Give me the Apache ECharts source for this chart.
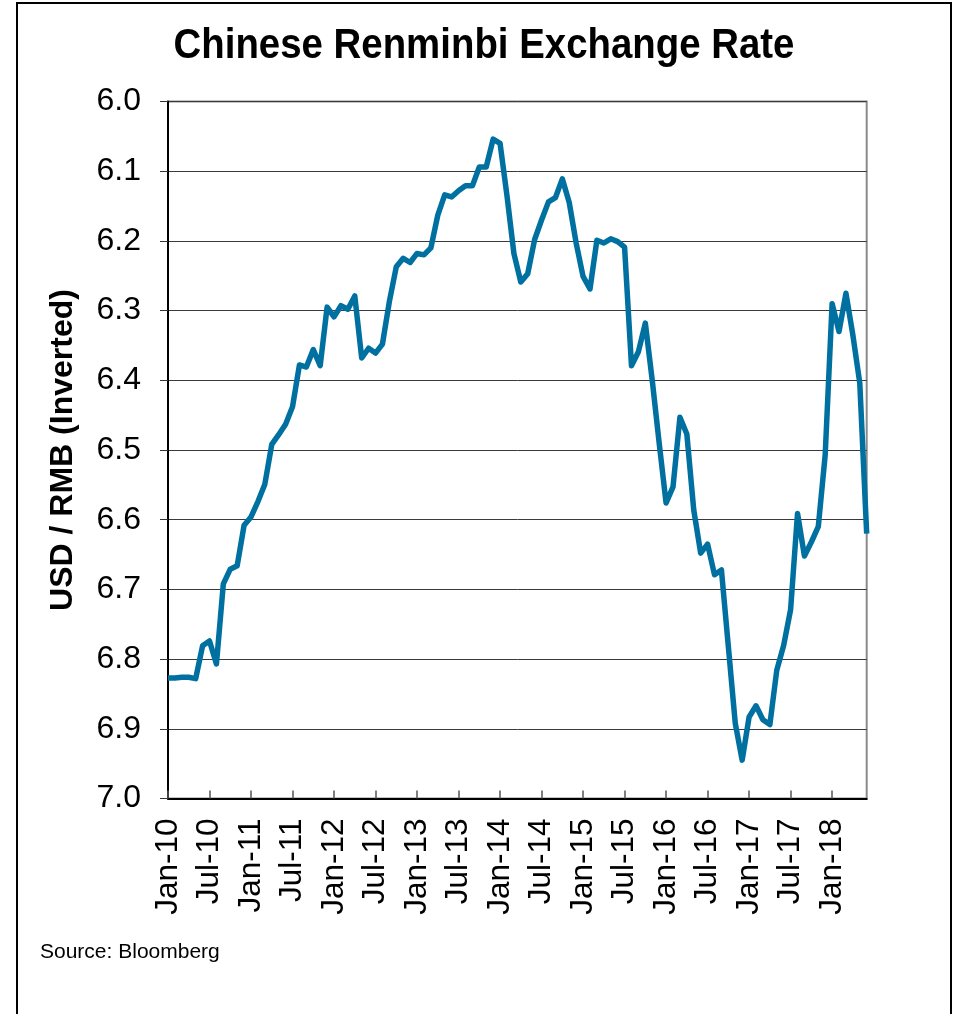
<!DOCTYPE html>
<html>
<head>
<meta charset="utf-8">
<script src="https://cdn.jsdelivr.net/npm/echarts@6/dist/echarts.min.js"></script>
<style>
  html, body { margin: 0; padding: 0; background: #fff; overflow: hidden; }
  #chart { width: 967px; height: 1014px; }
</style>
</head>
<body>
<div id="chart"></div>
<script>
// monthly category labels, Jan-10 .. Jun-18
const monthNames = ['Jan', 'Feb', 'Mar', 'Apr', 'May', 'Jun', 'Jul', 'Aug', 'Sep', 'Oct', 'Nov', 'Dec'];
const firstYear = 2010;
const monthCount = 102;
const categories = [];
for (let i = 0; i < monthCount; i++) {
  const yr = firstYear + Math.floor(i / 12);
  categories.push(monthNames[i % 12] + '-' + String(yr).slice(2));
}

// USD / RMB, month-end
const usdRmb = [
  6.827, 6.827, 6.826, 6.826, 6.828, 6.781, 6.774, 6.807, 6.692, 6.671, 6.666, 6.608,
  6.596, 6.574, 6.549, 6.492, 6.478, 6.463, 6.438, 6.378, 6.381, 6.356, 6.379, 6.295,
  6.309, 6.293, 6.298, 6.279, 6.368, 6.354, 6.361, 6.348, 6.287, 6.237, 6.225, 6.231,
  6.218, 6.220, 6.210, 6.163, 6.134, 6.137, 6.128, 6.121, 6.121, 6.094, 6.094, 6.054,
  6.060, 6.135, 6.218, 6.259, 6.247, 6.198, 6.170, 6.144, 6.138, 6.111, 6.145, 6.203,
  6.251, 6.269, 6.199, 6.203, 6.197, 6.201, 6.209, 6.379, 6.359, 6.318, 6.400, 6.490,
  6.576, 6.553, 6.453, 6.477, 6.586, 6.648, 6.635, 6.679, 6.672, 6.782, 6.892, 6.945,
  6.883, 6.867, 6.887, 6.894, 6.816, 6.780, 6.729, 6.591, 6.652, 6.632, 6.610, 6.507,
  6.290, 6.330, 6.275, 6.335, 6.404, 6.620
];

// value axis range (inverted)
const yMin = 6.0;
const yMax = 7.0;
const yStep = 0.1;

const titleText = 'Chinese Renminbi Exchange Rate';
const yAxisTitle = 'USD / RMB (Inverted)';
const sourceText = 'Source: Bloomberg';

const FONT = '"Liberation Sans", Arial, Helvetica, sans-serif';

const chart = echarts.init(document.getElementById('chart'), null, { renderer: 'canvas' });

chart.setOption({
  animation: false,
  backgroundColor: '#fff',
  grid: {
    left: 168,
    right: 100.3,
    top: 101.5,
    bottom: 215.5,
    show: true,
    borderColor: '#8a8a8a',
    borderWidth: 2,
    backgroundColor: 'transparent',
    outerBoundsMode: 'none'
  },
  xAxis: {
    type: 'category',
    data: categories,
    boundaryGap: false,
    axisLine: { show: true, onZero: false, lineStyle: { color: '#000', width: 2 } },
    axisTick: { show: true, inside: true, interval: 5, length: 8, lineStyle: { color: '#555', width: 1.5 } },
    axisLabel: { interval: 5, rotate: 90, margin: 20, fontSize: 31.5, fontFamily: FONT, color: '#000' },
    splitLine: { show: false }
  },
  yAxis: {
    type: 'value',
    inverse: true,
    min: yMin,
    max: yMax,
    interval: yStep,
    axisLine: { show: true, lineStyle: { color: '#000', width: 2 } },
    axisTick: { show: true, length: 8, lineStyle: { color: '#333', width: 1 } },
    axisLabel: {
      margin: 27, fontSize: 32, fontFamily: FONT, color: '#000',
      formatter: v => v.toFixed(1)
    },
    splitLine: { show: true, lineStyle: { color: '#3a3a3a', width: 1 } },
    name: yAxisTitle,
    nameLocation: 'middle',
    nameGap: 89,
    nameTextStyle: { fontFamily: FONT, fontSize: 32, fontWeight: 'bold', color: '#000' }
  },
  graphic: [
    {
      type: 'rect',
      silent: true,
      shape: { x: 17, y: 3, width: 934, height: 1040 },
      style: { fill: 'none', stroke: '#000', lineWidth: 2 }
    },
    {
      // narrow bold title
      type: 'text',
      silent: true,
      x: 484,
      y: 46,
      scaleX: 0.893,
      style: {
        text: titleText, fontFamily: FONT, fontSize: 43, fontWeight: 'bold', fill: '#000',
        textAlign: 'center', textVerticalAlign: 'middle'
      }
    },
    {
      type: 'text',
      silent: true,
      x: 40,
      y: 952,
      style: {
        text: sourceText, fontFamily: FONT, fontSize: 21, fill: '#000',
        textAlign: 'left', textVerticalAlign: 'middle'
      }
    }
  ],
  series: [{
    type: 'line',
    data: usdRmb,
    symbol: 'none',
    showSymbol: false,
    lineStyle: { color: '#0070a0', width: 5.5, join: 'round' },
    z: 5
  }]
});
</script>
</body>
</html>
